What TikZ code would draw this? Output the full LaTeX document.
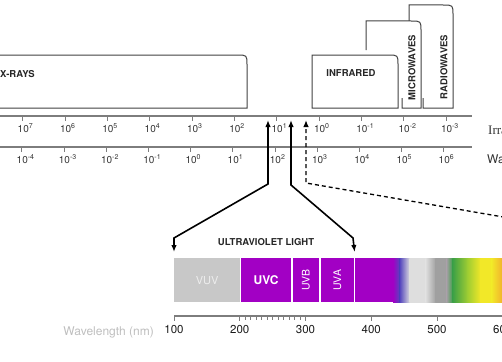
\documentclass[tikz,border=0pt]{standalone}
\usepackage{fontspec}
\setmainfont{TeX Gyre Heros}
\newfontfamily\seriffont{Liberation Serif}
\usetikzlibrary{arrows.meta,positioning}

\definecolor{uvpurple}{RGB}{162,0,196}
\definecolor{vuvgray}{RGB}{200,200,200}
\definecolor{axisgray}{RGB}{125,125,125}
\definecolor{labelgray}{RGB}{50,50,50}
\definecolor{wavegray}{RGB}{190,190,190}
\definecolor{boxgray}{RGB}{65,65,65}
\definecolor{specblue}{RGB}{85,70,190}
\definecolor{speclight}{RGB}{222,222,222}
\definecolor{specmid}{RGB}{160,160,160}
\definecolor{specgreen}{RGB}{60,160,70}
\definecolor{speclime}{RGB}{160,205,50}
\definecolor{specyellow}{RGB}{242,232,40}
\definecolor{specorange}{RGB}{242,175,45}

\tikzset{
  bandbox/.style={draw=boxgray, line width=1pt},
  bandname/.style={font=\bfseries\fontsize{9.5}{10}\selectfont, text=black!85, inner sep=0pt},
  axisline/.style={draw=axisgray, line width=1.1pt},
  tickline/.style={draw=axisgray, line width=0.8pt},
  ticklabel/.style={font=\fontsize{10}{11}\selectfont, text=labelgray, inner sep=0pt, anchor=base west},
  uvband/.style={minimum height=44pt, minimum width=#1, inner sep=0pt, anchor=north west, text=white},
  uvarrow/.style={line width=1.6pt, {Latex[length=7pt,width=5.5pt]}-{Latex[length=7pt,width=5.5pt]}},
}

\begin{document}
\begin{tikzpicture}[x=1pt, y=-1pt]
\useasboundingbox (0,0) rectangle (502,361);
\clip (0,0) rectangle (502,361);

% области спектра
\draw[bandbox] (-5,108) -- (-5,55) -- (237,55) .. controls (247,55) .. (247,65) -- (247,108) -- cycle;
\node[bandname, anchor=west] (xrays) at (0,74.5) {X-RAYS};
\draw[bandbox] (312,108) -- (312,55) -- (388,55) .. controls (398,55) .. (398,65) -- (398,108) -- cycle;
\node[bandname] (infrared) at (351,73.5) {INFRARED};
\draw[bandbox] (366,50) -- (366,21) -- (411,21) .. controls (421,21) .. (421,31) -- (421,108) -- (402,108) -- (402,98);
\node[bandname, rotate=90] (micro) at (412,67.5) {MICROWAVES};
\draw[bandbox] (409,21) -- (409,5) -- (443,5) .. controls (453,5) .. (453,15) -- (453,108) -- (423,108) -- (423,98);
\node[bandname, rotate=90] (radio) at (444,67) {RADIOWAVES};

% верхняя шкала
\draw[axisline] (0,116) -- (472,116);
\foreach \i in {0,...,10}{
  \pgfmathtruncatemacro{\e}{7-\i}
  \draw[tickline] (22.7+42.33*\i,116) -- ++(0,4.5);
  \node[ticklabel] (en\i) at (22.7+42.33*\i-5.2,132.5) {10\textsuperscript{\e}};
}
\node[font=\seriffont\fontsize{13}{14}\selectfont, text=labelgray, anchor=base west, inner sep=0pt] (irr) at (488,134) {Irradiance};

% нижняя шкала (длина волны)
\draw[axisline] (0,147) -- (472,147);
\foreach \i in {0,...,10}{
  \pgfmathtruncatemacro{\e}{\i-4}
  \draw[tickline] (21.7+42.2*\i,147) -- ++(0,4.5);
  \node[ticklabel] (wl\i) at (21.7+42.2*\i-5.2,163) {10\textsuperscript{\e}};
}
\node[font=\fontsize{12}{13}\selectfont, text=labelgray, anchor=base west, inner sep=0pt] (wa) at (487,163.5) {Wavelength};

% полоса УФ
\node[uvband=66pt, fill=vuvgray, text=white!93!black, font=\fontsize{11}{12}\selectfont] (vuv) at (174,258) {VUV};
\node[uvband=51pt, fill=uvpurple, font=\bfseries\fontsize{12}{13}\selectfont] (uvc) at (vuv.north east) {UVC};
\node[uvband=28pt, fill=uvpurple, font=\fontsize{10.5}{11}\selectfont] (uvb) at (uvc.north east) {\rotatebox{90}{UVB}};
\node[uvband=34pt, fill=uvpurple, font=\fontsize{10.5}{11}\selectfont] (uva) at (uvb.north east) {\rotatebox{90}{UVA}};
\fill[uvpurple] (uva.north east) rectangle (393.3,302);
\foreach \xa/\xb/\ca/\cb in {393/400/uvpurple/specblue, 399.7/410/specblue/speclight, 409.7/426/speclight/speclight,
    425.7/436/speclight/specmid, 435.7/447/specmid/specmid, 446.7/453/specmid/specgreen,
    452.7/468/specgreen/speclime, 467.7/481/speclime/specyellow, 480.7/492/specyellow/specyellow, 491.7/503/specyellow/specorange}
  \shade[left color=\ca, right color=\cb] (\xa,258) rectangle (\xb,302);
\foreach \n in {vuv,uvc,uvb,uva}
  \draw[white, line width=1.6pt] (\n.north east) -- (\n.south east);
\node[font=\bfseries\fontsize{9.5}{10}\selectfont, text=black!85] (uvtitle) at (266,242) {ULTRAVIOLET LIGHT};

% шкала в нм
\draw[axisline] (174,316) -- (505,316);
\foreach \n in {100,200,...,600}
  \draw[tickline] (174+0.6575*\n-65.75,316) -- ++(0,5) node[below=1pt, font=\fontsize{11.5}{12}\selectfont, text=black!90] (nm\n) {\n};
\foreach \k in {1,...,11}
  \draw[tickline] (239.75+\k*65.75/12,316) -- ++(0,3.5);
\node[font=\fontsize{12}{13}\selectfont, text=wavegray, anchor=base east, inner sep=0pt] (wlabel) at (154,335) {Wavelength (nm)};

% стрелки к шкале
\coordinate (uvstart) at (268,120);
\coordinate (uvend) at (291,120);
\coordinate (visstart) at (306,120);
\coordinate (visfar) at (512,218.5);
\draw[uvarrow] ([yshift=6pt]vuv.north west) -- (174,238) -- (268,184) -- (uvstart);
\draw[uvarrow] ([yshift=6pt]uva.north east) -- (353,238) -- (291,185) -- (uvend);
\draw[line width=1.3pt, dash pattern=on 4pt off 3pt, -{Latex[length=7pt,width=5.5pt]}] (visfar) -- (306,183) -- (visstart);
\end{tikzpicture}
\end{document}
